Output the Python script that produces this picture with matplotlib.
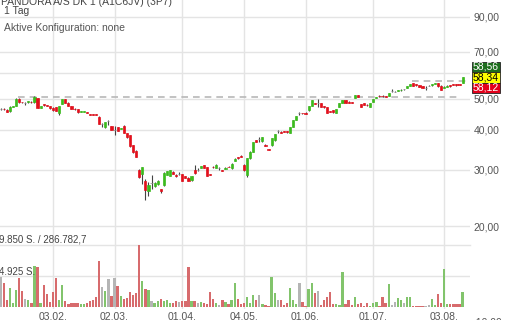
import numpy as np
import pandas as pd
import matplotlib
matplotlib.use('Agg')
import matplotlib.pyplot as plt
from matplotlib.patches import Rectangle
from matplotlib.ticker import NullLocator
from matplotlib.transforms import IdentityTransform

plt.rcParams['font.family'] = ['Liberation Sans', 'DejaVu Sans']

# trading days (German exchange, 2020)
holidays = ['2020-04-10', '2020-04-13', '2020-05-01']
days = pd.bdate_range('2020-01-09', '2020-08-11')
days = days[~days.isin(pd.to_datetime(holidays))]

tick_dates = ['2020-02-03', '2020-03-02', '2020-04-01', '2020-05-04',
              '2020-06-01', '2020-07-01', '2020-08-03']
tick_labels = ['03.02.', '02.03.', '01.04.', '04.05.', '01.06.', '01.07.', '03.08.']

opens = [46.4, 46.5, 46.2, 45.7, 47.2, 47.5, 50.0, 48.8, 48.6, 48.7,
         49.0, 48.7, 50.1, 46.9, 48.0, 47.7, 47.3, 46.9, 47.0, 45.2,
         48.2, 49.8, 48.6, 47.4, 46.6, 46.3, 45.6, 45.5, 45.4, 44.8,
         44.7, 44.7, 43.9, 41.8, 40.8, 42.5, 41.0, 39.9, 40.7, 40.3,
         41.2, 39.1, 38.5, 35.8, 34.4, 30.0, 29.2, 27.7, 25.7, 27.3,
         26.6, 27.0, 26.1, 26.8, 28.9, 28.7, 29.6, 28.9, 29.2, 29.1,
         28.6, 28.3, 27.8, 29.9, 30.0, 30.4, 31.0, 30.6, 29.1, 30.7,
         30.4, 30.3, 29.9, 30.2, 30.7, 30.3, 32.0, 32.8, 33.2, 31.1,
         28.8, 32.6, 34.2, 37.1, 37.4, 36.8, 35.9, 34.8, 35.8, 37.1,
         39.5, 39.4, 39.6, 39.5, 39.1, 40.8, 42.9, 45.0, 45.1, 45.2,
         46.0, 47.4, 48.5, 48.5, 48.5, 47.3, 47.1, 45.7, 46.0, 45.1,
         47.1, 48.5, 49.5, 49.0, 48.8, 50.2, 51.3, 48.2, 48.4, 47.9,
         47.2, 48.9, 50.4, 51.1, 51.1, 50.9, 51.0, 53.0, 52.6, 53.0,
         53.1, 53.6, 54.2, 54.8, 56.0, 55.5, 55.2, 54.8, 54.0, 54.9,
         55.0, 55.6, 56.0, 54.9, 54.2, 54.5, 55.2, 55.4, 55.6, 55.4, 56.0]

highs = [46.7, 46.7, 46.3, 47.3, 47.6, 50.2, 50.1, 48.9, 49.0, 49.3,
         49.1, 51.0, 50.2, 47.5, 48.1, 47.8, 47.4, 47.0, 47.1, 47.4,
         50.0, 49.9, 48.7, 47.5, 46.7, 46.4, 45.9, 45.8, 45.5, 44.9,
         44.8, 44.8, 44.0, 42.1, 42.4, 42.9, 41.1, 41.0, 40.8, 40.6,
         41.3, 39.2, 38.6, 35.9, 34.5, 30.1, 30.7, 28.0, 27.5, 28.9,
         27.4, 27.8, 26.2, 29.5, 29.8, 30.0, 29.7, 29.0, 29.5, 29.2,
         28.7, 28.4, 28.7, 31.0, 30.4, 30.9, 31.1, 30.7, 29.2, 30.8,
         31.2, 30.6, 30.0, 30.5, 30.8, 31.4, 32.6, 32.9, 33.3, 31.2,
         32.7, 34.3, 36.7, 37.2, 38.0, 38.0, 36.0, 34.9, 37.7, 38.8,
         39.8, 39.5, 39.7, 39.6, 40.9, 43.0, 44.1, 45.3, 45.2, 45.3,
         47.5, 49.6, 48.6, 49.9, 48.6, 47.4, 47.2, 45.8, 46.1, 46.5,
         48.6, 49.6, 49.6, 49.1, 48.9, 51.4, 51.4, 48.3, 48.5, 48.0,
         48.6, 50.0, 50.8, 51.2, 51.2, 51.0, 52.2, 53.5, 52.9, 53.4,
         53.5, 53.8, 54.8, 55.6, 56.1, 55.6, 55.3, 54.9, 54.6, 55.1,
         55.7, 56.1, 56.1, 55.0, 54.6, 55.0, 55.3, 55.5, 55.7, 55.5, 58.5]

lows = [46.2, 46.2, 45.5, 45.6, 47.1, 47.4, 48.6, 48.6, 47.9, 48.6,
        48.6, 48.6, 46.7, 46.8, 47.6, 47.3, 46.6, 45.9, 45.7, 44.6,
        48.1, 48.5, 47.3, 46.5, 46.2, 45.2, 45.5, 45.4, 45.0, 44.5,
        44.5, 44.4, 41.6, 40.9, 40.6, 41.5, 39.8, 38.5, 39.6, 40.1,
        39.0, 37.8, 35.4, 33.8, 32.8, 28.3, 27.0, 24.1, 24.8, 26.1,
        26.5, 26.9, 25.4, 26.7, 28.8, 28.6, 29.1, 28.5, 28.9, 27.6,
        28.2, 27.6, 27.7, 29.2, 29.7, 30.3, 30.3, 28.6, 28.8, 30.4,
        30.3, 30.0, 29.7, 30.1, 30.5, 30.2, 31.9, 32.5, 32.8, 29.8,
        28.5, 32.5, 34.1, 36.5, 36.6, 36.7, 35.5, 34.5, 35.7, 37.0,
        39.2, 39.1, 39.3, 39.2, 39.0, 40.7, 42.8, 44.6, 44.9, 44.8,
        45.9, 47.3, 48.1, 47.1, 47.1, 46.9, 45.0, 45.3, 45.2, 45.0,
        47.0, 48.4, 48.4, 48.4, 48.5, 50.1, 50.5, 47.1, 47.7, 47.6,
        47.1, 48.8, 50.3, 50.8, 50.8, 50.5, 50.9, 52.6, 52.4, 52.9,
        53.0, 53.4, 54.1, 54.7, 54.8, 54.9, 54.4, 54.1, 53.2, 54.7,
        54.9, 55.5, 54.5, 53.3, 54.1, 54.4, 54.5, 55.1, 54.9, 55.0, 55.9]

closes = [46.4, 46.3, 45.6, 47.2, 47.5, 50.0, 48.7, 48.7, 48.6, 49.2,
          48.7, 50.7, 46.8, 47.3, 47.7, 47.4, 46.7, 46.0, 45.8, 47.3,
          49.8, 48.6, 47.4, 46.6, 46.3, 45.3, 45.8, 45.7, 45.1, 44.6,
          44.6, 44.5, 41.7, 41.8, 42.3, 42.5, 39.9, 39.9, 39.7, 40.5,
          39.1, 37.9, 35.5, 34.2, 32.9, 28.4, 30.6, 25.9, 26.9, 27.3,
          27.3, 27.7, 25.8, 29.4, 29.7, 29.9, 29.2, 28.6, 29.2, 27.7,
          28.3, 27.7, 28.6, 29.3, 30.0, 30.8, 30.4, 28.7, 28.9, 30.5,
          31.1, 30.3, 29.8, 30.4, 30.6, 31.3, 32.5, 32.6, 32.9, 29.9,
          32.6, 34.2, 36.6, 36.6, 37.4, 37.9, 35.6, 34.6, 37.6, 38.7,
          39.5, 39.2, 39.4, 39.3, 40.8, 42.9, 44.0, 45.0, 45.0, 44.9,
          47.4, 49.5, 48.2, 48.5, 47.2, 47.0, 45.1, 45.4, 45.3, 46.4,
          48.5, 49.5, 48.5, 48.5, 48.6, 51.3, 50.6, 47.2, 47.8, 47.7,
          48.5, 49.9, 50.7, 50.9, 50.9, 50.6, 52.1, 53.0, 52.6, 53.3,
          53.4, 53.6, 54.7, 55.5, 54.9, 55.0, 54.5, 54.2, 54.0, 54.9,
          55.6, 56.0, 54.6, 53.4, 54.5, 54.9, 54.6, 55.2, 55.0, 55.1, 58.3]

volumes = [4700, 3860, 1100, 2970, 680, 2700, 4560, 2540, 1320, 1100,
           680, 6500, 6400, 680, 3500, 2070, 800, 2430, 4560, 1100,
           3500, 1000, 500, 600, 700, 600, 500, 500, 700, 900,
           1100, 1640, 7360, 3230, 2540, 4400, 1700, 4560, 3340, 1750,
           1250, 1500, 2430, 1900, 2200, 9850, 4180, 2800, 2700, 1000,
           650, 1000, 1300, 1000, 1100, 700, 600, 1000, 800, 900,
           900, 6400, 1000, 1000, 700, 840, 700, 450, 2430, 1200,
           600, 300, 1070, 800, 500, 1100, 3760, 1250, 400, 700,
           1600, 600, 1900, 1100, 1900, 500, 300, 100, 4820, 2170,
           1100, 1100, 300, 600, 2970, 1100, 500, 3760, 800, 200,
           2800, 3860, 2170, 2540, 300, 1100, 1660, 2430, 500, 500,
           300, 5520, 500, 1100, 300, 1640, 400, 650, 200, 600,
           150, 600, 800, 200, 1640, 600, 3600, 300, 800, 1380,
           1100, 650, 1640, 1640, 150, 150, 150, 150, 150, 300,
           1220, 300, 2000, 600, 5990, 400, 500, 500, 400, 400, 2430]

last_prices = [58.56, 58.34, 58.12]
vol_max = 9850
vol_label = '9.850 S. / 286.782,7'
vol_half_label = '4.925 S.'

W, H = 510, 320


def box(x0, y0, x1, y1):
    # pixel box (top-left origin) -> figure fraction
    return [x0 / W, 1 - y1 / H, (x1 - x0) / W, (y1 - y0) / H]


x = np.arange(len(days))
o = np.array(opens)
c = np.array(closes)
hi = np.array(highs)
lo = np.array(lows)
tick_pos = [days.get_loc(pd.Timestamp(d)) for d in tick_dates]
xlim = (-0.6 / 3.08, (470 - 0.6) / 3.08)

up, down = '#3cbb1e', '#e3101c'
colors = np.where(c > o, up, np.where(c < o, down, '#8c8c8c'))
vcolors = np.where(c > o, '#82c46c', np.where(c < o, '#d76b6d', '#b5b5b5'))

fig = plt.figure(figsize=(W / 100, H / 100), dpi=100)
fig.patch.set_facecolor('white')

ax = fig.add_axes(box(0, 0, 470, 309))
ax.set_yscale('log')
ax.set_ylim(11.02, 101.7)
ax.set_xlim(*xlim)
for s in ax.spines.values():
    s.set_visible(False)

grid_c = '#e4e4e4'
ax.set_xticks(tick_pos)
ax.set_xticklabels(tick_labels)
ax.tick_params(axis='x', length=0, pad=2, labelsize=7.5, labelcolor='#555555')
ax.yaxis.tick_right()
ax.set_yticks([20, 30, 40, 50, 70, 90])
ax.set_yticklabels(['20,00', '30,00', '40,00', '50,00', '70,00', '90,00'])
ax.yaxis.set_minor_locator(NullLocator())
ax.tick_params(axis='y', length=0, pad=2.5, labelsize=7.5, labelcolor='#555555')
ax.grid(True, color=grid_c, lw=1)
ax.axhline(60, color=grid_c, lw=1)
ax.set_axisbelow(True)
ax.text(1.0, 10, '  10,00', transform=ax.get_yaxis_transform(), fontsize=7.5,
        color='#555555', va='center', ha='left', clip_on=False)

# support / resistance lines
ax.plot([5.65, 148.2], [50.7, 50.7], color='#b8b8b8', lw=1.2, dashes=(4, 3), zorder=1)
ax.plot([133.6, 152.4], [57.0, 57.0], color='#b8b8b8', lw=1.2, dashes=(4, 3), zorder=1)

# candles
ax.vlines(x, lo, hi, color='#444444', lw=0.8, zorder=2)
ax.bar(x, c - o, bottom=o, width=0.7, color=colors, edgecolor=colors, lw=0.5, zorder=3)

# volume panel
axv = fig.add_axes(box(0, 245, 470, 307))
axv.set_facecolor('none')
axv.set_xlim(*xlim)
axv.set_ylim(0, vol_max)
axv.axis('off')
axv.axhline(vol_max / 2, color=grid_c, lw=1, zorder=0)
axv.axhline(vol_max, color=grid_c, lw=1, zorder=0, clip_on=False)
axv.bar(x, volumes, width=0.75, color=vcolors, zorder=2)

fig.text(-1.5 / W, 1 - 242.5 / H, vol_label, fontsize=7, color='#444444', va='baseline')
fig.text(-1.5 / W, 1 - 275 / H, vol_half_label, fontsize=7, color='#444444', va='baseline')

# header
fig.text(1 / W, 1 - 5 / H, 'PANDORA A/S DK 1 (A1C6JV) (3P7)', fontsize=7.5,
         color='#444444', va='baseline')
fig.text(4 / W, 1 - 13.5 / H, '1 Tag', fontsize=7.5, color='#444444', va='baseline')
fig.text(4 / W, 1 - 31 / H, 'Aktive Konfiguration: none', fontsize=7.5,
         color='#555555', va='baseline')

# price boxes
fig.canvas.draw()
yc = ax.transData.transform((0, last_prices[1]))[1]
bh = 10.5
styles = [('#1e6e1e', 'white', bh), ('#ffff00', 'black', 0), ('#e3001b', 'white', -bh)]
for p, (fc, tc, dy) in zip(last_prices, styles):
    cy = yc + dy
    fig.add_artist(Rectangle((472, cy - bh / 2), 28, bh, transform=IdentityTransform(),
                             facecolor=fc, edgecolor='#222222', lw=0.6))
    fig.text(486 / W, cy / H, f'{p:.2f}'.replace('.', ','), fontsize=7.5, color=tc,
             ha='center', va='center')

fig.savefig('out.png', dpi=100)
